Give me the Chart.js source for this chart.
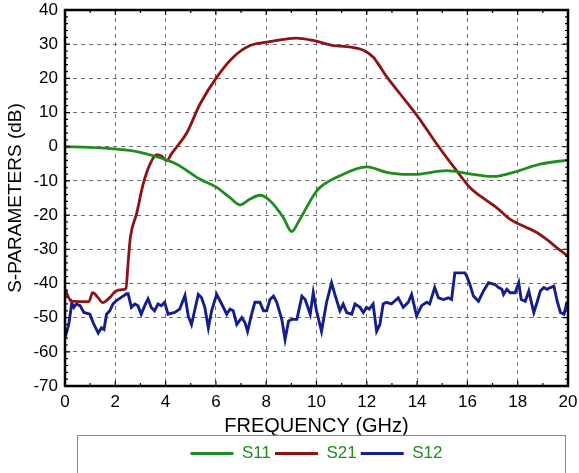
<!DOCTYPE html>
<html>
<head>
<meta charset="utf-8">
<script src="https://cdn.jsdelivr.net/npm/chart.js@4.4.1/dist/chart.umd.min.js"></script>
<style>
html,body{margin:0;padding:0;background:#fff;}
canvas{display:block;}
</style>
</head>
<body>
<canvas id="c" width="579" height="473"></canvas>
<script>
// ---- data ----
const xTickValues = [0,2,4,6,8,10,12,14,16,18,20];
const yTickValues = [-70,-60,-50,-40,-30,-20,-10,0,10,20,30,40];

const s11Freq = [0, 1, 2.05, 2.85, 3.64, 4.44, 5.37, 6.03, 6.56, 6.96, 7.36, 7.75, 8.15, 8.68, 9.01, 9.34, 9.87, 10.14, 10.93, 12.0, 12.79, 13.32, 13.85, 15.18, 15.97, 17.03, 17.83, 18.89, 20];
const s11Val  = [0, -0.2, -0.7, -1.4, -2.9, -5.1, -9.5, -11.9, -14.9, -17, -15.3, -14.2, -15.8, -20.7, -24.8, -21.2, -14.4, -11.9, -8.5, -5.9, -7.5, -8, -8.1, -7, -7.8, -8.7, -7.5, -5.1, -3.9];

const s21Freq = [0, 0.25, 0.6, 0.95, 1.1, 1.3, 1.5, 1.8, 2.0, 2.3, 2.42, 2.52, 2.6, 2.85, 3.11, 3.38, 3.64, 3.84, 4.04, 4.24, 4.5, 4.84, 5.37, 6.03, 6.69, 7.36, 8.02, 8.68, 9.2, 9.87, 10.67, 11.2, 11.86, 12.26, 12.52, 12.79, 13.32, 14.05, 14.78, 15.57, 16.1, 16.77, 17.16, 17.69, 18.22, 18.76, 19.15, 19.55, 20];
const s21Val  = [-41.7, -45.2, -45.3, -45.3, -42.7, -44, -45.6, -44, -42.3, -41.8, -41.5, -33, -26.5, -19.5, -10.9, -5.1, -2.3, -2.8, -4.1, -2, 0.5, 4, 12.5, 20.3, 26.2, 29.6, 30.6, 31.4, 31.8, 31.1, 29.6, 29.3, 28.2, 26.2, 23.5, 20.5, 15.5, 8.6, 0.8, -7, -11.9, -15.8, -17.8, -21.2, -23.2, -25.1, -27.1, -29.5, -32];

const s12Freq = [0, 0.15, 0.27, 0.35, 0.45, 0.6, 0.75, 0.99, 1.12, 1.32, 1.45, 1.55, 1.65, 1.78, 1.91, 2.05, 2.25, 2.45, 2.51, 2.64, 2.78, 2.9, 3.03, 3.17, 3.3, 3.43, 3.56, 3.7, 3.83, 3.96, 4.1, 4.36, 4.56, 4.77, 4.9, 5.03, 5.3, 5.43, 5.56, 5.7, 5.83, 6.03, 6.23, 6.43, 6.56, 6.69, 6.83, 7.03, 7.16, 7.26, 7.42, 7.55, 7.75, 7.89, 8.02, 8.15, 8.29, 8.42, 8.62, 8.75, 8.89, 9.02, 9.22, 9.42, 9.55, 9.75, 9.87, 10.0, 10.2, 10.4, 10.6, 10.73, 10.93, 11.06, 11.2, 11.4, 11.53, 11.73, 11.86, 11.99, 12.1, 12.25, 12.39, 12.52, 12.65, 12.78, 12.98, 13.25, 13.45, 13.65, 13.78, 13.98, 14.18, 14.38, 14.5, 14.7, 14.85, 15.05, 15.24, 15.37, 15.5, 15.77, 15.9, 15.97, 16.1, 16.24, 16.44, 16.64, 16.84, 17.1, 17.24, 17.37, 17.44, 17.57, 17.7, 17.9, 18.04, 18.14, 18.3, 18.44, 18.64, 18.77, 18.9, 19.04, 19.17, 19.3, 19.44, 19.57, 19.7, 19.84, 19.97];
const s12Val  = [-55.9, -52, -45.7, -47, -46, -46.5, -48.5, -49, -51.5, -54.5, -53, -53.5, -49, -48, -46, -45, -44, -43, -43, -47, -46, -46.5, -49, -46.5, -44.5, -47, -48, -46, -46.5, -45.5, -49, -48.5, -47.5, -43.5, -49.5, -52, -43.2, -44.2, -47, -53, -48, -43.2, -46, -49, -47.5, -48, -52, -50, -51.5, -54, -49, -45.5, -45.5, -48, -48, -44.7, -43.7, -45.5, -50.5, -56.4, -51, -50.5, -50.5, -43.7, -44.7, -49, -42.7, -48, -54, -45.5, -39.8, -43.2, -48, -46, -48.5, -49, -46, -47, -48.5, -47, -47.5, -46, -54, -52, -46, -45.5, -46, -44.2, -47, -45.5, -43.2, -49.5, -46.5, -45.5, -46, -41.2, -44.2, -44.7, -44.2, -44.7, -36.9, -36.9, -36.9, -37.8, -40.3, -43.7, -45.2, -42.2, -39.8, -40.3, -41.2, -41.7, -43.2, -41.7, -42.7, -42.7, -39.8, -44.7, -45.2, -42.2, -48.5, -45.5, -42.2, -41.2, -41.7, -41.2, -40.8, -45.2, -48.5, -49, -45.2];

const seriesNames = ['S11', 'S21', 'S12'];
const seriesColors = ['#1f8c1f', '#8c1414', '#141e8c'];

function pairs(xs, ys){ return xs.map((x,i)=>({x:x, y:ys[i]})); }

const framePlugin = {
  id: 'frame',
  afterDatasetsDraw(chart){
    const {ctx, chartArea:a, scales} = chart;
    ctx.save();
    ctx.strokeStyle = '#000';
    ctx.lineWidth = 1.2;
    ctx.beginPath();
    for (let f = 0; f <= 20; f += 1){
      const px = scales.x.getPixelForValue(f);
      const len = (f % 2 === 0) ? 5 : 3;
      ctx.moveTo(px, a.top); ctx.lineTo(px, a.top + len);
      ctx.moveTo(px, a.bottom); ctx.lineTo(px, a.bottom - len);
    }
    for (let v = -70; v <= 40; v += 2){
      const py = scales.y.getPixelForValue(v);
      const len = (v % 10 === 0) ? 5 : 3;
      ctx.moveTo(a.left, py); ctx.lineTo(a.left + len, py);
      ctx.moveTo(a.right, py); ctx.lineTo(a.right - len, py);
    }
    ctx.stroke();
    ctx.lineWidth = 2.5;
    ctx.strokeRect(a.left, a.top, a.right - a.left, a.bottom - a.top);
    ctx.restore();
  },
  afterDraw(chart){
    const lg = chart.legend;
    const a = chart.chartArea;
    const ctx = chart.ctx;
    ctx.save();
    ctx.strokeStyle = '#8a8a8a';
    ctx.lineWidth = 1;
    ctx.strokeRect(a.left + 12.5, lg.top - 5.5, a.right - a.left - 15, 60);
    ctx.restore();
  }
};

const FONT = 'Liberation Sans, Arial, sans-serif';

new Chart(document.getElementById('c'), {
  type: 'line',
  data: {
    datasets: [
      { label: seriesNames[0], data: pairs(s11Freq, s11Val), borderColor: seriesColors[0], backgroundColor: seriesColors[0], borderWidth: 2.8, pointRadius: 0, cubicInterpolationMode: 'monotone', fill: false },
      { label: seriesNames[1], data: pairs(s21Freq, s21Val), borderColor: seriesColors[1], backgroundColor: seriesColors[1], borderWidth: 2.8, pointRadius: 0, cubicInterpolationMode: 'monotone', fill: false },
      { label: seriesNames[2], data: pairs(s12Freq, s12Val), borderColor: seriesColors[2], backgroundColor: seriesColors[2], borderWidth: 2.9, pointRadius: 0, tension: 0, fill: false }
    ]
  },
  options: {
    responsive: false,
    animation: false,
    devicePixelRatio: 1,
    layout: { padding: { top: 10, right: 11, left: 0, bottom: 1 } },
    plugins: {
      legend: {
        position: 'bottom',
        fullSize: false,
        labels: {
          usePointStyle: true,
          pointStyle: 'line',
          pointStyleWidth: 43,
          padding: 4,
          color: '#1f8c1f',
          font: { family: FONT, size: 17 }
        }
      },
      tooltip: { enabled: false }
    },
    scales: {
      x: {
        type: 'linear',
        min: 0, max: 20,
        afterBuildTicks(scale){ scale.ticks = xTickValues.map(v=>({value:v})); },
        afterFit(scale){ scale.height = 55; scale.paddingLeft = 0; scale.paddingRight = 0; },
        ticks: { color: '#000', padding: 6, font: { family: FONT, size: 17 }, maxRotation: 0 },
        grid: { color: '#6e6e6e', lineWidth: 1, drawTicks: false },
        border: { display: false, dash: [4, 4] },
        title: { display: true, text: 'FREQUENCY (GHz)', color: '#000', padding: { top: 0, bottom: 3 }, font: { family: FONT, size: 20 } }
      },
      y: {
        min: -70, max: 40,
        afterBuildTicks(scale){ scale.ticks = yTickValues.map(v=>({value:v})); },
        afterFit(scale){ scale.width = 65; scale.paddingTop = 0; scale.paddingBottom = 0; },
        ticks: { color: '#000', padding: 7, font: { family: FONT, size: 17 } },
        grid: { color: '#6e6e6e', lineWidth: 1, drawTicks: false },
        border: { display: false, dash: [4, 4] },
        title: { display: true, text: 'S-PARAMETERS (dB)', color: '#000', padding: { top: 4, bottom: 2 }, font: { family: FONT, size: 19 } }
      }
    }
  },
  plugins: [framePlugin]
});
</script>
</body>
</html>
